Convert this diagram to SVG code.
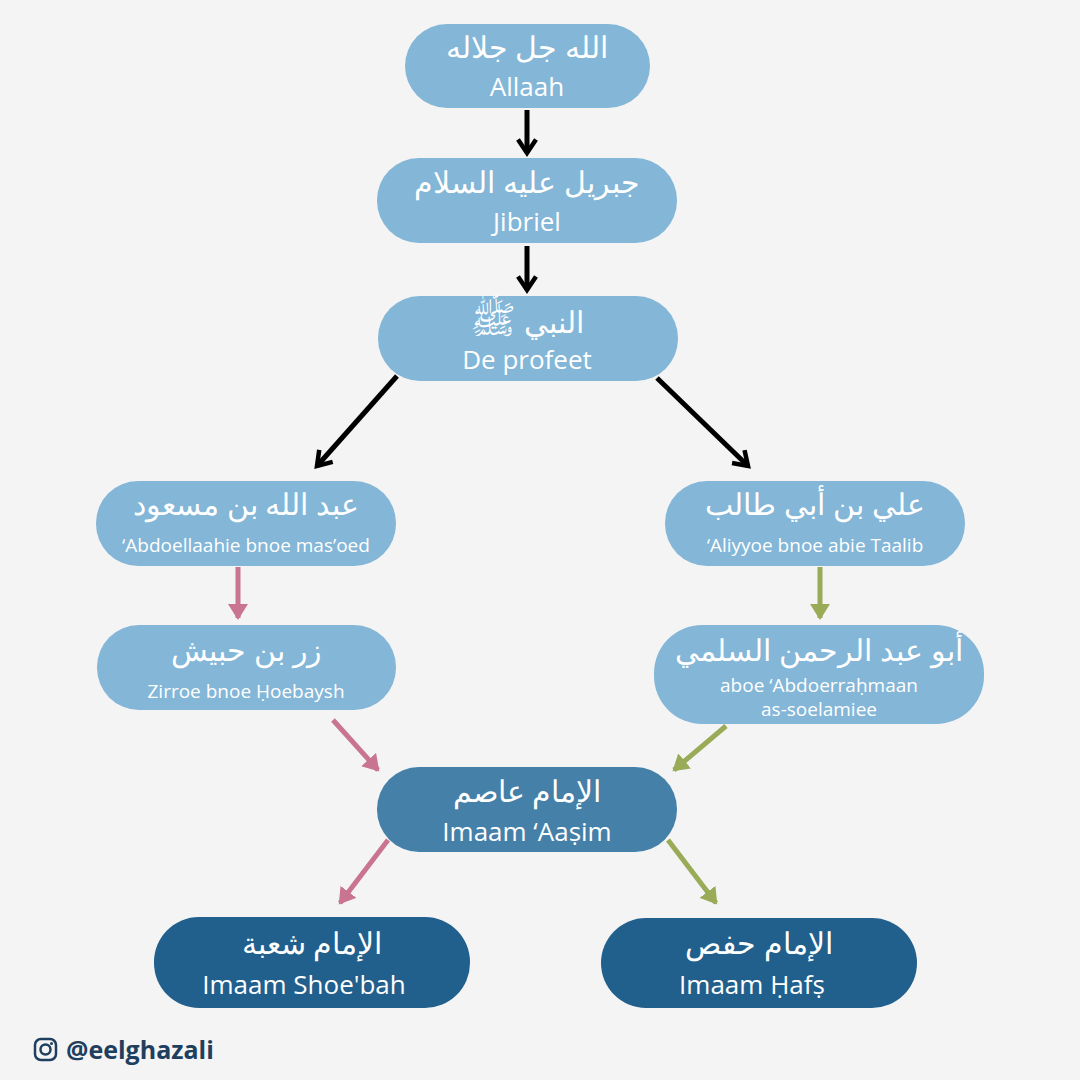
<svg xmlns="http://www.w3.org/2000/svg" width="1080" height="1080" viewBox="0 0 1080 1080">
<style>
.l{fill:#83b6d7}.m{fill:#4580a8}.d{fill:#215f8c}
text{fill:#fff;text-anchor:middle;font-family:"Open Sans","Noto Sans",sans-serif}
.ar{font-size:30px}.en{font-size:26px}.sm{font-size:19px}
.k{stroke:#000;stroke-width:5;fill:none}.p{stroke:#c97490;stroke-width:5;fill:none}.g{stroke:#9aab58;stroke-width:5;fill:none}
</style>
<defs>
<marker id="ak" viewBox="0 0 10 10" refX="7" refY="5" markerWidth="4.5" markerHeight="4.5" orient="auto" markerUnits="strokeWidth"><path d="M1,1 L7,5 L1,9" fill="none" stroke="#000" stroke-width="2"/></marker>
<marker id="ap" viewBox="0 0 10 10" refX="7" refY="5" markerWidth="4" markerHeight="4" orient="auto" markerUnits="strokeWidth"><path d="M0,0 L8,5 L0,10 Z" fill="#c97490"/></marker>
<marker id="ag" viewBox="0 0 10 10" refX="7" refY="5" markerWidth="4" markerHeight="4" orient="auto" markerUnits="strokeWidth"><path d="M0,0 L8,5 L0,10 Z" fill="#9aab58"/></marker>
</defs>
<rect width="1080" height="1080" fill="#f4f4f4"/>
<g id="connectors">
<line class="k" x1="527" y1="110" x2="527" y2="153" marker-end="url(#ak)"/>
<line class="k" x1="527" y1="246" x2="527" y2="290" marker-end="url(#ak)"/>
<line class="k" x1="397" y1="376" x2="317" y2="466" marker-end="url(#ak)"/>
<line class="k" x1="657" y1="378" x2="748" y2="466" marker-end="url(#ak)"/>
<line class="p" x1="238" y1="567" x2="238" y2="618" marker-end="url(#ap)"/>
<line class="p" x1="333" y1="720" x2="378" y2="770" marker-end="url(#ap)"/>
<line class="p" x1="388" y1="840" x2="340" y2="903" marker-end="url(#ap)"/>
<line class="g" x1="820" y1="567" x2="820" y2="618" marker-end="url(#ag)"/>
<line class="g" x1="726" y1="726" x2="674" y2="770" marker-end="url(#ag)"/>
<line class="g" x1="668" y1="840" x2="716" y2="903" marker-end="url(#ag)"/>
</g>
<g id="n1"><rect class="l" x="405" y="24" width="245" height="84" rx="42"/><text class="ar" x="527" y="58">الله جل جلاله</text><text class="en" x="527" y="96">Allaah</text></g>
<g id="n2"><rect class="l" x="377" y="158" width="300" height="85" rx="42"/><text class="ar" x="527" y="193">جبريل عليه السلام</text><text class="en" x="527" y="231">Jibriel</text></g>
<g id="n3"><rect class="l" x="378" y="296" width="300" height="85" rx="42"/><text class="ar" x="527" y="333">النبي <tspan style="font-size:38px">ﷺ</tspan></text><text class="en" x="527" y="369">De profeet</text></g>
<g id="n4"><rect class="l" x="96" y="481" width="300" height="85" rx="42"/><text class="ar" x="246" y="515">عبد الله بن مسعود</text><text class="sm" x="246" y="552">‘Abdoellaahie bnoe mas’oed</text></g>
<g id="n5"><rect class="l" x="665" y="481" width="300" height="85" rx="42"/><text class="ar" x="815" y="515">علي بن أبي طالب</text><text class="sm" x="815" y="552">‘Aliyyoe bnoe abie Taalib</text></g>
<g id="n6"><rect class="l" x="97" y="625" width="299" height="85" rx="42"/><text class="ar" x="246" y="661">زر بن حبيش</text><text class="sm" x="246" y="698">Zirroe bnoe Ḥoebaysh</text></g>
<g id="n7"><rect class="l" x="654" y="625" width="330" height="99" rx="48"/><text class="ar" x="819" y="661">أبو عبد الرحمن السلمي</text><text class="sm" x="819" y="692">aboe ‘Abdoerraḥmaan</text><text class="sm" x="819" y="716">as-soelamiee</text></g>
<g id="n8"><rect class="m" x="377" y="767" width="300" height="85" rx="42"/><text class="ar" x="527" y="802">الإمام عاصم</text><text class="en" x="527" y="841">Imaam ‘Aaṣim</text></g>
<g id="n9"><rect class="d" x="154" y="917" width="316" height="91" rx="45"/><text class="ar" x="312" y="954">الإمام شعبة</text><text class="en" x="304" y="994">Imaam Shoe'bah</text></g>
<g id="n10"><rect class="d" x="601" y="918" width="316" height="90" rx="45"/><text class="ar" x="759" y="954">الإمام حفص</text><text class="en" x="752" y="994">Imaam Ḥafṣ</text></g>
<g id="footer">
<rect x="35" y="1039" width="21" height="21" rx="6" fill="none" stroke="#1e3f5e" stroke-width="2.5"/>
<circle cx="45.5" cy="1049.5" r="5" fill="none" stroke="#1e3f5e" stroke-width="2.5"/>
<circle cx="51.5" cy="1043.5" r="1.5" fill="#1e3f5e"/>
<text x="66" y="1059" style="text-anchor:start;fill:#1e3f5e;font-weight:bold;font-size:25px">@eelghazali</text>
</g>
</svg>
